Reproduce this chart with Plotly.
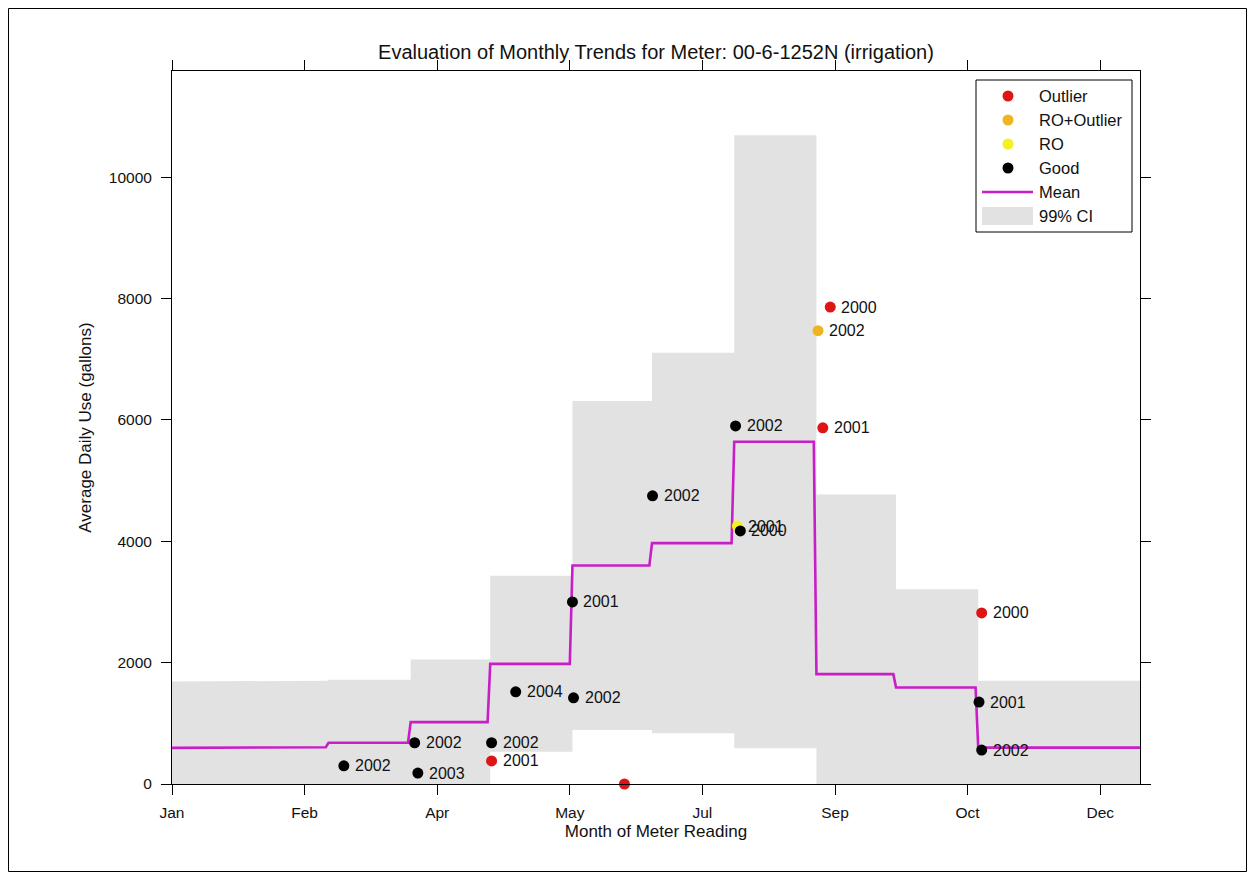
import plotly.graph_objects as go
import numpy as np

# ---------------- data ----------------
month_starts = [0, 31, 59, 90, 120, 151, 181, 212, 243, 273, 304, 334, 365]
mean_vals = [595, 605, 680, 1020, 1980, 3600, 3970, 5640, 1810, 1590, 600, 600]
ci_low = [0, 0, 0, 0, 530, 890, 835, 590, 0, 0, 0, 0]
ci_high = [1690, 1700, 1720, 2050, 3430, 6310, 7105, 10690, 4770, 3210, 1700, 1700]

tick_days = [0, 50, 100, 150, 200, 250, 300, 350]
tick_labels = ["Jan", "Feb", "Apr", "May", "Jul", "Sep", "Oct", "Dec"]
y_ticks = [0, 2000, 4000, 6000, 8000, 10000]

good_day = [64.8, 91.5, 92.7, 120.5, 129.6, 151.4, 151.0, 181.2, 212.5, 214.3, 304.3, 305.3]
good_val = [300, 680, 180, 680, 1520, 1420, 3000, 4750, 5900, 4170, 1350, 560]
good_lbl = ["2002", "2002", "2003", "2002", "2004", "2002", "2001", "2002", "2002", "2000", "2001", "2002"]

out_day = [120.5, 170.6, 245.4, 248.2, 305.3]
out_val = [380, 0, 5870, 7860, 2820]
out_lbl = ["2001", "", "2001", "2000", "2000"]

roout_day = [243.6]
roout_val = [7470]
roout_lbl = ["2002"]

ro_day = [213.2]
ro_val = [4250]
ro_lbl = ["2001"]

legend_names = ["Outlier", "RO+Outlier", "RO", "Good", "Mean", "99% CI"]
title_text = "Evaluation of Monthly Trends for Meter: 00-6-1252N (irrigation)"

# ---------------- styling ----------------
FONT = "Liberation Sans, Arial, sans-serif"
TXT = "#111111"
C_OUT, C_ROOUT, C_RO, C_GOOD = "#dd1515", "#efb521", "#f2f21e", "#000000"
C_MEAN, C_CI = "#c81ec8", "#e2e2e2"
W, H = 1239, 864
ML, MR, MT, MB = 164, 107, 63, 88
pw = W - ML - MR
ph = H - MT - MB
YMAX = 11750
XMAX = 365
OFF = 8  # page body margin


def px(xp):  # page pixel -> paper x
    return (xp - OFF - ML) / pw


def py(yp):  # page pixel -> paper y
    return 1 - (yp - OFF - MT) / ph


fig = go.Figure()

# 99% CI step band
cx, cy = [], []
for i in range(12):
    cx += [month_starts[i], month_starts[i + 1]]
    cy += [ci_high[i], ci_high[i]]
for i in reversed(range(12)):
    cx += [month_starts[i + 1], month_starts[i]]
    cy += [ci_low[i], ci_low[i]]
fig.add_trace(go.Scatter(x=cx, y=cy, fill="toself", fillcolor=C_CI,
                         line=dict(width=0, color=C_CI), mode="lines",
                         name="99% CI", hoverinfo="skip"))

# mean line at daily resolution
days = np.arange(0, XMAX + 1)
mi = np.clip(np.searchsorted(month_starts, days, side="right") - 1, 0, 11)
mline = [mean_vals[k] for k in mi]
fig.add_trace(go.Scatter(x=days, y=mline, mode="lines",
                         line=dict(color=C_MEAN, width=2.6), name="Mean"))


def pts(xs, ys, color, name):
    fig.add_trace(go.Scatter(x=xs, y=ys, mode="markers", name=name, cliponaxis=False,
                             marker=dict(color=color, size=11, line=dict(width=0))))


pts(ro_day, ro_val, C_RO, "RO")
pts(roout_day, roout_val, C_ROOUT, "RO+Outlier")
pts(out_day, out_val, C_OUT, "Outlier")
pts(good_day, good_val, C_GOOD, "Good")

# year labels
for xs, ys, ls in [(good_day, good_val, good_lbl), (out_day, out_val, out_lbl),
                   (roout_day, roout_val, roout_lbl), (ro_day, ro_val, ro_lbl)]:
    for x, y, l in zip(xs, ys, ls):
        if l:
            fig.add_annotation(x=x, y=y, text=l, showarrow=False, xanchor="left",
                               yanchor="middle", xshift=10, borderpad=0,
                               font=dict(family=FONT, size=16, color=TXT))

# outer figure border
fig.add_shape(type="rect", xref="paper", yref="paper",
              x0=(0.5 - ML) / pw, x1=(W - 0.5 - ML) / pw,
              y0=-(MB - 0.5) / ph, y1=1 + (MT - 0.5) / ph,
              line=dict(color="black", width=1), fillcolor="rgba(0,0,0,0)", layer="above")

# ---------------- legend (MATLAB style box) ----------------
LX0, LX1, LY0, LY1 = 976, 1132, 80, 232
fig.add_shape(type="rect", xref="paper", yref="paper", x0=px(LX0), x1=px(LX1),
              y0=py(LY1), y1=py(LY0), line=dict(color="black", width=1),
              fillcolor="white", layer="above")
rows = [96, 120, 144, 168, 192, 216]
sym_colors = [C_OUT, C_ROOUT, C_RO, C_GOOD]
r = 5.5
for k, name in enumerate(legend_names):
    yc = rows[k]
    if k < 4:
        fig.add_shape(type="circle", xref="paper", yref="paper",
                      x0=px(1008 - r), x1=px(1008 + r), y0=py(yc + r), y1=py(yc - r),
                      line=dict(width=0), fillcolor=sym_colors[k], layer="above")
    elif k == 4:
        fig.add_shape(type="line", xref="paper", yref="paper",
                      x0=px(982), x1=px(1033), y0=py(yc), y1=py(yc),
                      line=dict(color=C_MEAN, width=2.6), layer="above")
    else:
        fig.add_shape(type="rect", xref="paper", yref="paper",
                      x0=px(982), x1=px(1033), y0=py(yc + 9), y1=py(yc - 9),
                      line=dict(width=0), fillcolor=C_CI, layer="above")
    fig.add_annotation(xref="paper", yref="paper", x=px(1038), y=py(yc), text=name,
                       showarrow=False, xanchor="left", yanchor="middle", borderpad=0,
                       font=dict(family=FONT, size=16.5, color=TXT))

axis_common = dict(showgrid=False, zeroline=False, showline=True, linecolor="black",
                   linewidth=1, mirror="ticks", ticks="outside", ticklen=10,
                   tickcolor="black", tickwidth=1,
                   tickfont=dict(family=FONT, size=15.5, color=TXT))

fig.update_xaxes(range=[0, XMAX], tickvals=tick_days, ticktext=tick_labels,
                 ticklabelstandoff=4,
                 title=dict(text="Month of Meter Reading", standoff=5,
                            font=dict(family=FONT, size=17, color=TXT)),
                 **axis_common)
fig.update_yaxes(range=[0, YMAX], tickvals=y_ticks, tickformat="d",
                 ticklabelstandoff=6,
                 title=dict(text="Average Daily Use (gallons)", standoff=12,
                            font=dict(family=FONT, size=17, color=TXT)),
                 **axis_common)

fig.update_layout(
    width=W, height=H,
    margin=dict(l=ML, r=MR, t=MT, b=MB),
    paper_bgcolor="white", plot_bgcolor="white",
    font=dict(family=FONT, size=15, color=TXT),
    title=dict(text=title_text, x=0.5, xref="paper", xanchor="center",
               y=1 - 44 / H, yanchor="middle",
               font=dict(family=FONT, size=20, color=TXT)),
    showlegend=False,
)

fig.write_html("out.html")
